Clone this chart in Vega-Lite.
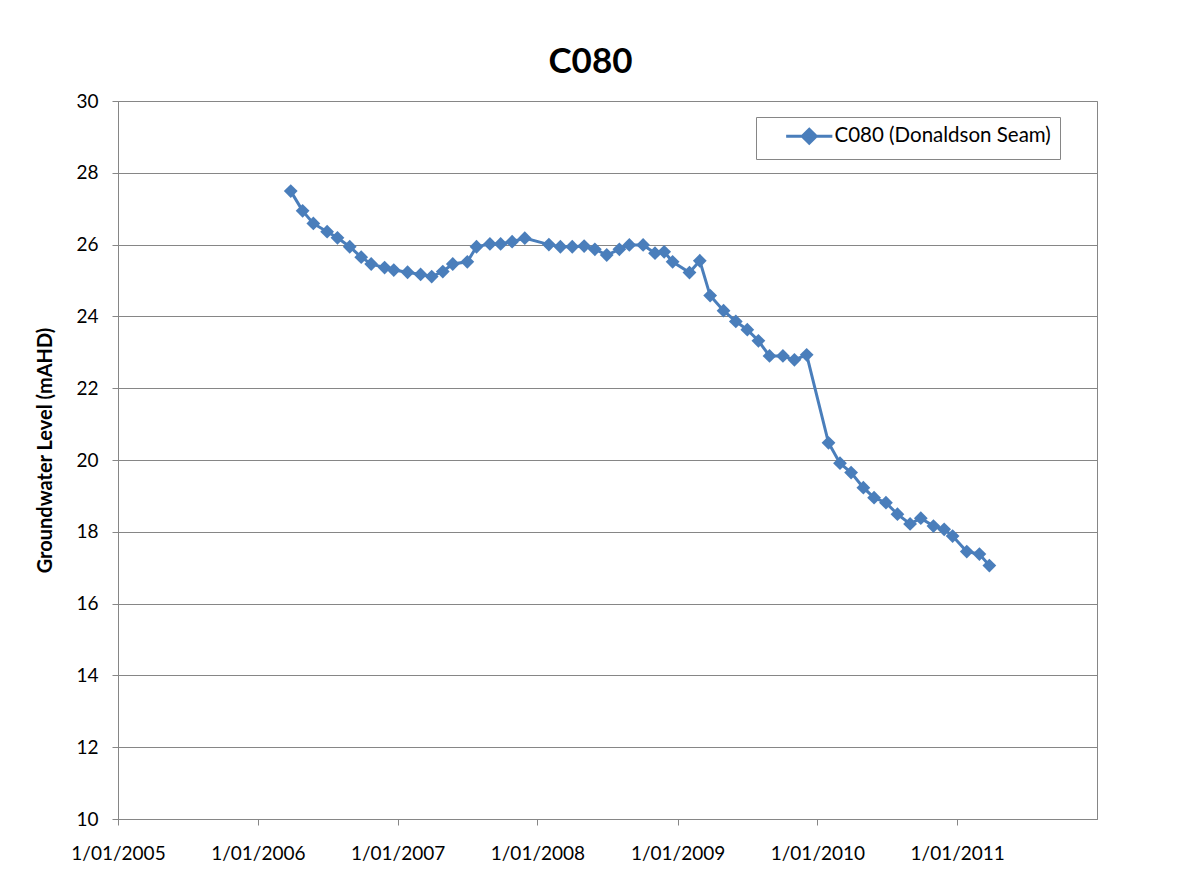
{
  "$schema": "https://vega.github.io/schema/vega-lite/v6.json",
  "autosize": "none",
  "width": 979,
  "height": 718,
  "padding": {"left": 118, "top": 101, "right": 81, "bottom": 65},
  "background": "white",
  "title": {"text": "C080", "font": "Lato", "fontSize": 35, "fontWeight": "bold", "color": "black", "anchor": "middle", "dx": -17, "offset": 12},
  "config": {"view": {"stroke": "#868686", "strokeWidth": 1}},
  "data": {"values": [
    {"date": "2006-03-28", "level": 27.49},
    {"date": "2006-04-28", "level": 26.94},
    {"date": "2006-05-26", "level": 26.59},
    {"date": "2006-07-01", "level": 26.36},
    {"date": "2006-07-28", "level": 26.19},
    {"date": "2006-08-29", "level": 25.94},
    {"date": "2006-09-28", "level": 25.65},
    {"date": "2006-10-24", "level": 25.46},
    {"date": "2006-11-28", "level": 25.36},
    {"date": "2006-12-22", "level": 25.29},
    {"date": "2007-01-27", "level": 25.23},
    {"date": "2007-03-02", "level": 25.17},
    {"date": "2007-03-31", "level": 25.11},
    {"date": "2007-04-29", "level": 25.25},
    {"date": "2007-05-25", "level": 25.46},
    {"date": "2007-07-02", "level": 25.52},
    {"date": "2007-07-26", "level": 25.94},
    {"date": "2007-08-30", "level": 26.02},
    {"date": "2007-09-27", "level": 26.02},
    {"date": "2007-10-27", "level": 26.08},
    {"date": "2007-11-29", "level": 26.18},
    {"date": "2008-01-31", "level": 26.0},
    {"date": "2008-03-01", "level": 25.94},
    {"date": "2008-04-01", "level": 25.94},
    {"date": "2008-05-02", "level": 25.96},
    {"date": "2008-05-30", "level": 25.87},
    {"date": "2008-06-30", "level": 25.71},
    {"date": "2008-08-02", "level": 25.87},
    {"date": "2008-08-28", "level": 25.99},
    {"date": "2008-10-03", "level": 25.99},
    {"date": "2008-11-03", "level": 25.76},
    {"date": "2008-11-27", "level": 25.8},
    {"date": "2008-12-19", "level": 25.52},
    {"date": "2009-02-01", "level": 25.22},
    {"date": "2009-02-28", "level": 25.55},
    {"date": "2009-03-27", "level": 24.58},
    {"date": "2009-05-01", "level": 24.16},
    {"date": "2009-06-02", "level": 23.86},
    {"date": "2009-07-02", "level": 23.63},
    {"date": "2009-07-31", "level": 23.32},
    {"date": "2009-08-29", "level": 22.9},
    {"date": "2009-10-03", "level": 22.9},
    {"date": "2009-11-02", "level": 22.79},
    {"date": "2009-12-04", "level": 22.93},
    {"date": "2010-01-30", "level": 20.48},
    {"date": "2010-03-01", "level": 19.91},
    {"date": "2010-03-30", "level": 19.65},
    {"date": "2010-05-01", "level": 19.23},
    {"date": "2010-05-29", "level": 18.95},
    {"date": "2010-06-29", "level": 18.81},
    {"date": "2010-07-29", "level": 18.49},
    {"date": "2010-08-31", "level": 18.22},
    {"date": "2010-09-28", "level": 18.38},
    {"date": "2010-10-31", "level": 18.16},
    {"date": "2010-11-28", "level": 18.07},
    {"date": "2010-12-20", "level": 17.88},
    {"date": "2011-01-26", "level": 17.45},
    {"date": "2011-02-28", "level": 17.38},
    {"date": "2011-03-26", "level": 17.06}
  ]},
  "mark": {"type": "line", "strokeWidth": 3, "point": {"shape": "diamond", "size": 190, "filled": true, "opacity": 1}},
  "encoding": {
    "x": {
      "field": "date", "type": "temporal",
      "scale": {"type": "utc", "domain": [{"year": 2005, "month": 1, "date": 1, "utc": true}, {"year": 2012, "month": 1, "date": 1, "utc": true}], "nice": false},
      "axis": {
        "values": [
          {"year": 2005, "month": 1, "date": 1, "utc": true},
          {"year": 2006, "month": 1, "date": 1, "utc": true},
          {"year": 2007, "month": 1, "date": 1, "utc": true},
          {"year": 2008, "month": 1, "date": 1, "utc": true},
          {"year": 2009, "month": 1, "date": 1, "utc": true},
          {"year": 2010, "month": 1, "date": 1, "utc": true},
          {"year": 2011, "month": 1, "date": 1, "utc": true}
        ],
        "labelExpr": "utcFormat(datum.value, '%-d/%m/%Y')",
        "title": null, "grid": false,
        "domainColor": "#868686", "tickColor": "#868686", "tickSize": 6,
        "labelFont": "Lato", "labelFontSize": 19, "labelColor": "black", "labelPadding": 19,
        "labelAngle": 0, "labelOverlap": false, "labelFlush": false
      }
    },
    "y": {
      "field": "level", "type": "quantitative",
      "scale": {"domain": [10, 30], "nice": false, "zero": false},
      "axis": {
        "values": [10, 12, 14, 16, 18, 20, 22, 24, 26, 28, 30],
        "title": "Groundwater Level (mAHD)",
        "titleFont": "Lato", "titleFontSize": 20, "titleFontWeight": "bold", "titleColor": "black", "titlePadding": 20, "titleY": 349,
        "grid": true, "gridColor": "#868686", "gridWidth": 1,
        "domainColor": "#868686", "tickColor": "#868686", "tickSize": 6,
        "labelFont": "Lato", "labelFontSize": 19, "labelColor": "black", "labelPadding": 14
      }
    },
    "color": {
      "datum": "C080 (Donaldson Seam)",
      "scale": {"range": ["#4A7EBB"]},
      "legend": {
        "title": null, "orient": "none", "legendX": 638, "legendY": 16,
        "strokeColor": "#868686", "fillColor": "white", "padding": 9,
        "symbolType": "M-3.3,0H3.3M0,-1L1,0L0,1L-1,0Z",
        "symbolSize": 196, "symbolStrokeWidth": 3, "symbolFillColor": "#4A7EBB", "symbolStrokeColor": "#4A7EBB",
        "labelFont": "Lato", "labelFontSize": 20.5, "labelColor": "black", "labelOffset": 15, "labelLimit": 400,
        "labelExpr": "datum.label + '\u00a0\u00a0'",
        "symbolOffset": 34
      }
    }
  }
}
